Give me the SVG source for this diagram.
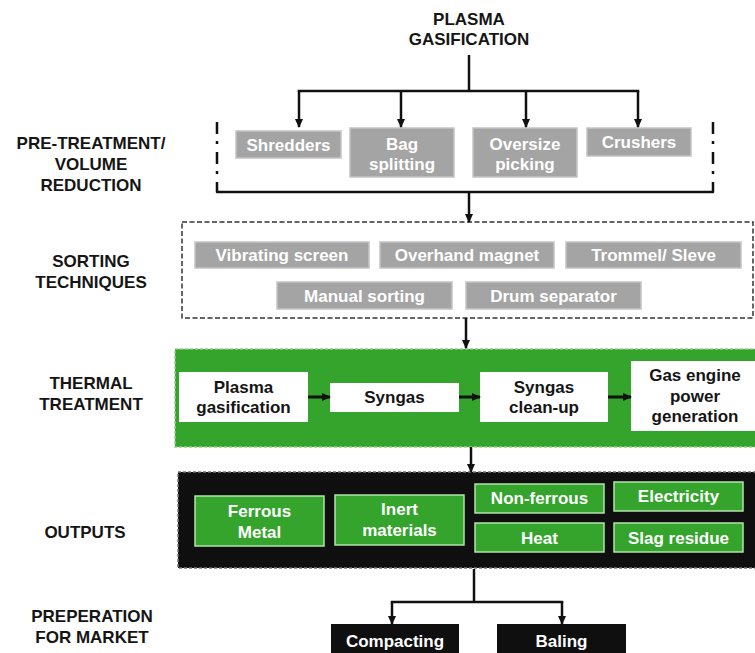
<svg xmlns="http://www.w3.org/2000/svg" width="755" height="653" viewBox="0 0 755 653">
  <defs>
    <marker id="arrow" markerUnits="userSpaceOnUse" markerWidth="9" markerHeight="8" refX="8" refY="4" orient="auto">
      <path d="M0,0 L9,4 L0,8 z" fill="#111"/>
    </marker>
    <style>
      text { font-family: "Liberation Sans", Arial, sans-serif; font-weight: bold; font-size: 17px; text-anchor: middle; }
      .label { fill: #151515; }
      .gray rect { fill: #a4a4a4; stroke: #c4c4c4; stroke-width: 1.5; }
      .gray text { fill: #ffffff; }
      .white rect { fill: #ffffff; }
      .white text { fill: #151515; }
      .out rect { fill: #34a42c; stroke: #b4e3ac; stroke-width: 1.5; }
      .out text { fill: #ffffff; }
      .mkt rect { fill: #0f0f0f; }
      .mkt text { fill: #ffffff; }
      .conn { fill: none; stroke: #111; stroke-width: 2.5; }
      .arr { marker-end: url(#arrow); }
    </style>
  </defs>

  <rect width="755" height="653" fill="#ffffff"/>

  <!-- stage labels -->
  <g id="stage-labels" class="label">
    <text x="469" y="25">PLASMA</text>
    <text x="469" y="45">GASIFICATION</text>
    <text x="91" y="149">PRE-TREATMENT/</text>
    <text x="91" y="170">VOLUME</text>
    <text x="91" y="191">REDUCTION</text>
    <text x="91" y="267">SORTING</text>
    <text x="91" y="288">TECHNIQUES</text>
    <text x="91" y="389">THERMAL</text>
    <text x="91" y="410">TREATMENT</text>
    <text x="85" y="538">OUTPUTS</text>
    <text x="92" y="622">PREPERATION</text>
    <text x="92" y="643">FOR MARKET</text>
  </g>

  <!-- stage containers -->
  <g id="pretreatment-bracket" fill="none" stroke="#111" stroke-width="2.5">
    <path d="M217,122 V183 M713,122 V183" stroke-dasharray="12 7 3 8"/>
    <path d="M217,183 V192 H713 V183" stroke-linejoin="round"/>
  </g>
  <rect id="sorting-frame" x="182" y="222" width="571" height="96" fill="none" stroke="#333" stroke-width="1.5" stroke-dasharray="5 2.5"/>
  <rect id="thermal-frame" x="175" y="349" width="582" height="98" fill="#34a42c" stroke="#8fd486" stroke-width="1.5" stroke-dasharray="3 2"/>
  <rect id="outputs-frame" x="178" y="472" width="579" height="96" fill="#0f0f0f" stroke="#777" stroke-width="1.5" stroke-dasharray="3 2"/>

  <!-- pre-treatment -->
  <g id="shredders" class="gray"><rect x="236" y="131" width="105" height="27"/><text x="288.5" y="151">Shredders</text></g>
  <g id="bag-splitting" class="gray"><rect x="350" y="128" width="104" height="49"/><text x="402" y="150">Bag</text><text x="402" y="170">splitting</text></g>
  <g id="oversize-picking" class="gray"><rect x="473" y="128" width="104" height="49"/><text x="525" y="150">Oversize</text><text x="525" y="170">picking</text></g>
  <g id="crushers" class="gray"><rect x="587" y="128" width="104" height="28"/><text x="639" y="148">Crushers</text></g>

  <!-- sorting -->
  <g id="vibrating-screen" class="gray"><rect x="195" y="242" width="174" height="26"/><text x="282" y="261">Vibrating screen</text></g>
  <g id="overhand-magnet" class="gray"><rect x="380" y="242" width="174" height="26"/><text x="467" y="261">Overhand magnet</text></g>
  <g id="trommel-sleve" class="gray"><rect x="566" y="242" width="175" height="26"/><text x="653.5" y="261">Trommel/ Sleve</text></g>
  <g id="manual-sorting" class="gray"><rect x="277" y="282" width="175" height="27"/><text x="364.5" y="302">Manual sorting</text></g>
  <g id="drum-separator" class="gray"><rect x="466" y="282" width="175" height="27"/><text x="553.5" y="302">Drum separator</text></g>

  <!-- thermal treatment -->
  <g id="plasma-gasification" class="white"><rect x="179" y="372" width="129" height="50"/><text x="243.5" y="393">Plasma</text><text x="243.5" y="413">gasification</text></g>
  <g id="syngas" class="white"><rect x="330" y="383" width="129" height="29"/><text x="394.5" y="403">Syngas</text></g>
  <g id="syngas-cleanup" class="white"><rect x="480" y="372" width="128" height="50"/><text x="544" y="393">Syngas</text><text x="544" y="413">clean-up</text></g>
  <g id="gas-engine" class="white"><rect x="631" y="361" width="124" height="70"/><text x="695" y="381">Gas engine</text><text x="695" y="402">power</text><text x="695" y="422">generation</text></g>

  <!-- outputs -->
  <g id="ferrous-metal" class="out"><rect x="195" y="496" width="129" height="50"/><text x="259.5" y="517">Ferrous</text><text x="259.5" y="538">Metal</text></g>
  <g id="inert-materials" class="out"><rect x="335" y="495" width="129" height="50"/><text x="399.5" y="515">Inert</text><text x="399.5" y="536">materials</text></g>
  <g id="non-ferrous" class="out"><rect x="475" y="484" width="129" height="29"/><text x="539.5" y="504">Non-ferrous</text></g>
  <g id="heat" class="out"><rect x="475" y="523" width="129" height="29"/><text x="539.5" y="544">Heat</text></g>
  <g id="electricity" class="out"><rect x="614" y="482" width="129" height="29"/><text x="678.5" y="502">Electricity</text></g>
  <g id="slag-residue" class="out"><rect x="614" y="523" width="129" height="29"/><text x="678.5" y="544">Slag residue</text></g>

  <!-- preparation for market -->
  <g id="compacting" class="mkt"><rect x="331" y="624" width="128" height="29"/><text x="395" y="647">Compacting</text></g>
  <g id="baling" class="mkt"><rect x="497" y="624" width="129" height="29"/><text x="561.5" y="647">Baling</text></g>

  <!-- connectors -->
  <g id="connectors" class="conn">
    <path d="M469,55 V91"/>
    <path d="M299,91 H638" stroke-linecap="square"/>
    <path class="arr" d="M299,91 V127"/>
    <path class="arr" d="M401,91 V127"/>
    <path class="arr" d="M526,91 V127"/>
    <path class="arr" d="M638,91 V127"/>
    <path class="arr" d="M469,192 V222"/>
    <path class="arr" d="M466,318 V348"/>
    <path class="arr" d="M308,397 H330" stroke-width="3"/>
    <path class="arr" d="M459,397 H480" stroke-width="3"/>
    <path class="arr" d="M608,397 H631" stroke-width="3"/>
    <path class="arr" d="M471,447 V472"/>
    <path d="M474,569 V602"/>
    <path d="M392,602 H562" stroke-linecap="square"/>
    <path class="arr" d="M392,602 V624"/>
    <path class="arr" d="M562,602 V624"/>
  </g>
</svg>
